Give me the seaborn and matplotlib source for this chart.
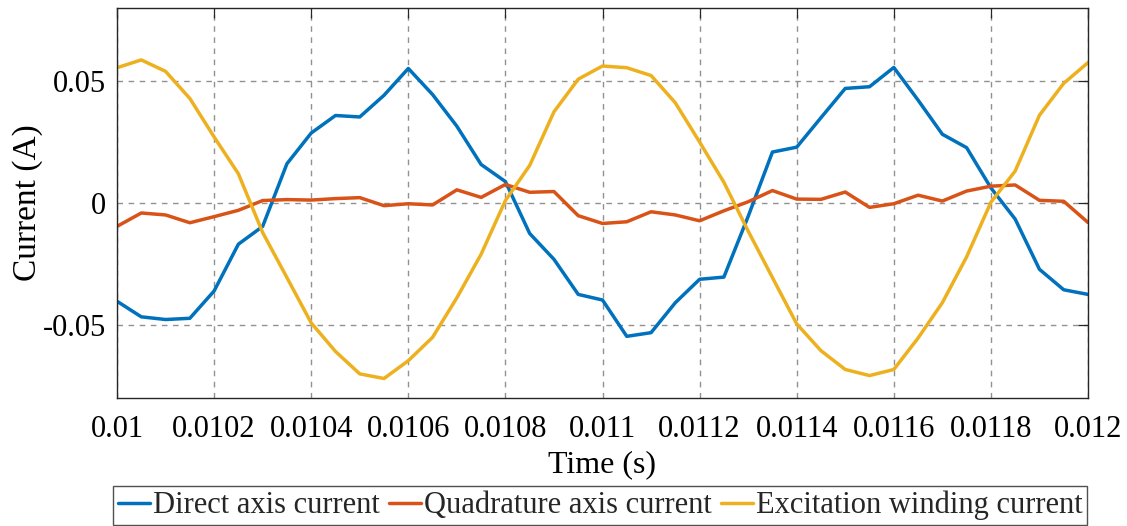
import numpy as np
import pandas as pd
import matplotlib
matplotlib.use("Agg")
import matplotlib.pyplot as plt
import seaborn as sns

# Sample times (s)
time = [0.01 + 0.00005 * k for k in range(41)]

direct_axis = [
    -0.0403, -0.0467, -0.0478, -0.0473, -0.0361, -0.0169, -0.0096, 0.0161,
    0.0287, 0.0359, 0.0353, 0.0442, 0.0552, 0.0445, 0.0315, 0.0158,
    0.0088, -0.0125, -0.0231, -0.0375, -0.0398, -0.0547, -0.0532, -0.0409,
    -0.0313, -0.0304, -0.0055, 0.0209, 0.0229, 0.0350, 0.0470, 0.0477,
    0.0556, 0.0422, 0.0282, 0.0227, 0.0062, -0.0066, -0.0272, -0.0356,
    -0.0375,
]
quadrature_axis = [
    -0.0096, -0.0041, -0.0049, -0.0081, -0.0056, -0.0030, 0.0010, 0.0014,
    0.0012, 0.0018, 0.0022, -0.0011, -0.0003, -0.0008, 0.0054, 0.0023,
    0.0076, 0.0044, 0.0047, -0.0052, -0.0084, -0.0077, -0.0036, -0.0049,
    -0.0073, -0.0032, 0.0005, 0.0051, 0.0016, 0.0015, 0.0045, -0.0018,
    -0.0003, 0.0032, 0.0008, 0.0049, 0.0069, 0.0074, 0.0011, 0.0007,
    -0.0080,
]
excitation = [
    0.0555, 0.0587, 0.0540, 0.0429, 0.0271, 0.0120, -0.0121, -0.0306,
    -0.0492, -0.0609, -0.0701, -0.0720, -0.0647, -0.0551, -0.0389, -0.0210,
    0.0010, 0.0154, 0.0374, 0.0508, 0.0562, 0.0555, 0.0523, 0.0411,
    0.0250, 0.0085, -0.0115, -0.0306, -0.0496, -0.0606, -0.0683, -0.0708,
    -0.0683, -0.0554, -0.0409, -0.0221, 0.0003, 0.0131, 0.0360, 0.0491,
    0.0576,
]

series_names = ["Direct axis current", "Quadrature axis current",
                "Excitation winding current"]
series_colors = ["#0072BD", "#D95319", "#EDB120"]

x_ticks = [0.01, 0.0102, 0.0104, 0.0106, 0.0108, 0.011, 0.0112, 0.0114,
           0.0116, 0.0118, 0.012]
x_tick_labels = ["0.01", "0.0102", "0.0104", "0.0106", "0.0108", "0.011",
                 "0.0112", "0.0114", "0.0116", "0.0118", "0.012"]
y_ticks = [-0.05, 0, 0.05]
y_tick_labels = ["-0.05", "0", "0.05"]

df = pd.DataFrame({
    "Time": time * 3,
    "Current": direct_axis + quadrature_axis + excitation,
    "Signal": sum([[n] * len(time) for n in series_names], []),
})

sns.set_theme(style="white")
plt.rcParams["font.family"] = ["Liberation Serif", "DejaVu Serif"]

fig = plt.figure(figsize=(11.27, 5.26), dpi=100)
ax = fig.add_axes([117 / 1127, 1 - 398 / 526, (1088 - 117) / 1127, (398 - 8) / 526])

sns.lineplot(data=df, x="Time", y="Current", hue="Signal",
             hue_order=series_names, palette=series_colors,
             linewidth=2.5, ax=ax, legend=False)

ax.set_xlim(0.01, 0.012)
ax.set_ylim(-0.08, 0.08)
ax.set_xticks(x_ticks)
ax.set_xticklabels(x_tick_labels)
ax.set_yticks(y_ticks)
ax.set_yticklabels(y_tick_labels)

fs = 22
ax.tick_params(direction="in", length=7, width=0.9, colors="#262626",
               labelsize=fs, top=True, right=True)
ax.tick_params(axis="x", pad=12)
ax.tick_params(axis="y", pad=8)
for lbl in ax.get_xticklabels() + ax.get_yticklabels():
    lbl.set_color("black")
ax.grid(True, linestyle=(0, (4, 4)), color="#858585", linewidth=1.0, alpha=0.9)
for sp in ax.spines.values():
    sp.set_visible(True)
    sp.set_color("#262626")
    sp.set_linewidth(1.0)

ax.set_xlabel("Time (s)", fontsize=23, color="black", labelpad=4.5)
ax.set_ylabel("Current (A)", fontsize=24, color="black", labelpad=-0.5)

handles = [plt.Line2D([], [], color=c, linewidth=2.5) for c in series_colors]
leg = fig.legend(handles, series_names, loc="lower center", ncol=3,
                 bbox_to_anchor=(0.5324, 0.002), fontsize=fs, frameon=True,
                 fancybox=False, handlelength=1.05, handletextpad=0.1,
                 columnspacing=0.3, borderpad=0.15, borderaxespad=0.0)
leg.get_frame().set_edgecolor("#262626")
leg.get_frame().set_linewidth(1.0)

fig.savefig("out.png", dpi=100)
